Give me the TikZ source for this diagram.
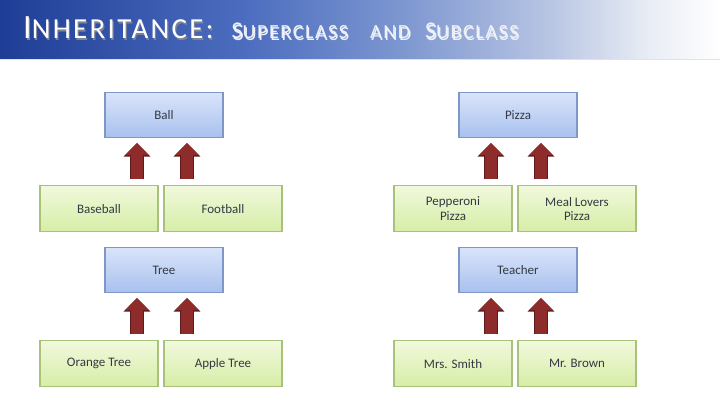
\documentclass[tikz,border=0pt]{standalone}
\usepackage{fontspec}
\setmainfont{Carlito}
\newfontfamily\titlefont[LetterSpace=8]{Carlito}
\usepackage{xcolor}
\usetikzlibrary{arrows.meta,calc,positioning}
\definecolor{bardark}{HTML}{1E3D96}
\definecolor{barmid}{HTML}{4C6DBF}
\definecolor{barsoft}{HTML}{7D97D0}
\definecolor{barlight}{HTML}{B7C4E3}
\definecolor{barend}{HTML}{E8ECF4}
\definecolor{supertop}{HTML}{D9E4FA}
\definecolor{superbot}{HTML}{A9C1EE}
\definecolor{superline}{HTML}{7E97C6}
\definecolor{subtop}{HTML}{F1F9DC}
\definecolor{subbot}{HTML}{D6EDA6}
\definecolor{subline}{HTML}{A8C27C}
\definecolor{arrowred}{HTML}{8E2C2C}
\definecolor{arrowedge}{HTML}{5E1B1B}
\definecolor{boxtext}{HTML}{333A44}
\definecolor{titleshade}{HTML}{7D8496}
\definecolor{subtitle}{HTML}{EEF1F7}
% tikz fits the path to the middle half (25bp..75bp) of the shading
\pgfdeclarehorizontalshading{titlebar}{100bp}{color(0bp)=(bardark); color(25bp)=(bardark); color(42bp)=(barmid); color(53bp)=(barsoft); color(63bp)=(barlight); color(70bp)=(barend); color(75bp)=(white); color(100bp)=(white)}
\newcommand{\titletext}{\titlefont{\fontsize{34}{34}\selectfont I}{\fontsize{29}{29}\selectfont NHERITANCE:}\hspace{18pt}\color{subtitle}{\fontsize{24}{24}\selectfont S}{\fontsize{20}{20}\selectfont UPERCLASS}\hspace{22pt}{\fontsize{20}{20}\selectfont AND}\hspace{15pt}{\fontsize{24}{24}\selectfont S}{\fontsize{20}{20}\selectfont UBCLASS}}

\begin{document}
\begin{tikzpicture}[x=1pt,y=1pt,font=\fontsize{13}{14.5}\selectfont,node distance=47pt,
  superbox/.style={draw=superline,line width=1.3pt,top color=supertop,bottom color=superbot,minimum width=118pt,minimum height=45pt,text=boxtext},
  subbox/.style={draw=subline,line width=1.3pt,top color=subtop,bottom color=subbot,minimum width=118pt,minimum height=46pt,align=center,text=boxtext},
  inherit/.style={draw=arrowred,line width=12pt,-{Triangle[width=23pt,length=12pt]},
    preaction={draw=arrowedge,line width=14pt,-{Triangle[width=26pt,length=13.5pt]}}}]
\useasboundingbox (0,0) rectangle (720,404);
\fill[white] (0,0) rectangle (720,404);
% title bar
\shade[shading=titlebar] (0,344) rectangle (720,404);
\draw[white!80!barmid,line width=1pt] (0,344) -- (720,344);
\node[anchor=base west,inner sep=0pt,text=white] (title) at (23,365) {\rlap{\raisebox{-1.2pt}{\hspace{1.2pt}\textcolor{titleshade}{\titletext}}}\titletext};
% superclasses
\node[superbox] (ball) at (164,289) {Ball};
\node[superbox] (tree) at (164,134) {Tree};
\node[superbox] (pizza) at (518,289) {Pizza};
\node[superbox] (teacher) at (518,134) {Teacher};
% subclasses
\node[subbox,below=of ball,xshift=-65pt] (baseball) {Baseball};
\node[subbox,below=of ball,xshift=59pt] (football) {Football};
\node[subbox,below=of tree,xshift=-65pt] (orange) {Orange Tree};
\node[subbox,below=of tree,xshift=59pt] (apple) {Apple Tree};
\node[subbox,below=of pizza,xshift=-65pt] (pepperoni) {Pepperoni\\Pizza};
\node[subbox,below=of pizza,xshift=59pt] (meal) {Meal Lovers\\Pizza};
\node[subbox,below=of teacher,xshift=-65pt] (smith) {Mrs. Smith};
\node[subbox,below=of teacher,xshift=59pt] (brown) {Mr. Brown};
% inheritance arrows
\foreach \parent/\left/\right in {ball/baseball/football,tree/orange/apple,pizza/pepperoni/meal,teacher/smith/brown}{
  \draw[inherit] ($(\parent.south |- \left.north)+(-27,6)$) -- ($(\parent.south)+(-27,-5)$);
  \draw[inherit] ($(\parent.south |- \right.north)+(23,6)$) -- ($(\parent.south)+(23,-5)$);
}
\end{tikzpicture}
\end{document}
